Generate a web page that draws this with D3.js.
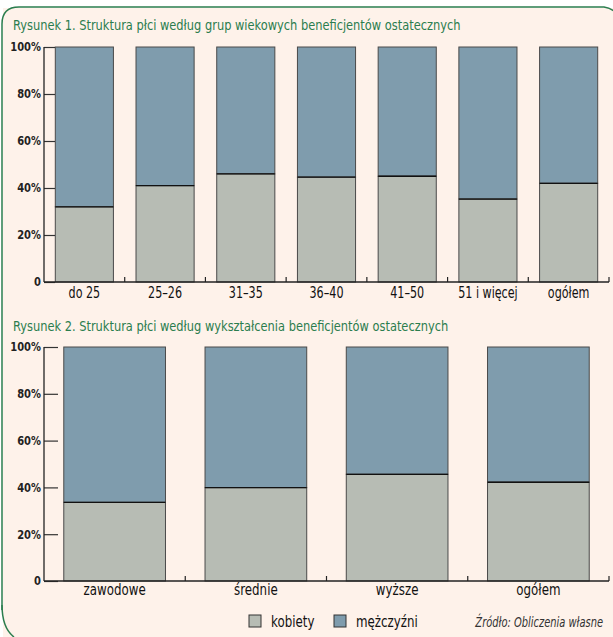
<!DOCTYPE html>
<html><head><meta charset="utf-8">
<script src="https://cdn.jsdelivr.net/npm/d3@7"></script>
<style>
html,body{margin:0;padding:0;background:#fff;}
svg{display:block;}
text{font-family:"DejaVu Sans Condensed","Liberation Sans Narrow",sans-serif;}
</style></head><body>
<svg id="c" width="613" height="637"></svg>
<script>
const title1 = "Rysunek 1. Struktura płci według grup wiekowych beneficjentów ostatecznych";
const title2 = "Rysunek 2. Struktura płci według wykształcenia beneficjentów ostatecznych";
const ageCategories = ["do 25","25–26","31–35","36–40","41–50","51 i więcej","ogółem"];
const ageWomen = [32, 41, 46, 44.6, 45, 35.3, 42];
const eduCategories = ["zawodowe","średnie","wyższe","ogółem"];
const eduWomen = [33.6, 39.9, 45.6, 42.2];
const yTicks = [0,20,40,60,80,100];
const yTickLabels = ["0","20%","40%","60%","80%","100%"];
const seriesNames = ["kobiety","mężczyźni"];
const source = "Źródło: Obliczenia własne";

const colors = {women:"#b7bcb4", men:"#7f9cad", bg:"#fef2ea", green:"#2b7d4e"};
const svg = d3.select("#c");

function squeeze(sel, f){
  sel.each(function(){
    const w = this.getComputedTextLength();
    d3.select(this).attr("textLength", w*f).attr("lengthAdjust","spacingAndGlyphs");
  });
}

// frame
svg.append("rect").attr("x",3).attr("y",8).attr("width",612).attr("height",630).attr("fill",colors.bg);
svg.append("path")
  .attr("d","M2,610 L2,24 Q2,7 19,7 L604,7 Q611,8 615,12")
  .attr("fill","none").attr("stroke",colors.green).attr("stroke-width",1.5);
svg.append("path")
  .attr("d","M2,605 Q2,628 14,637")
  .attr("fill","none").attr("stroke",colors.green).attr("stroke-width",1.5);

function drawChart(cfg){
  const g = svg.append("g");
  g.append("text").attr("x",13).attr("y",cfg.titleY).attr("fill",colors.green)
    .attr("font-size",14.5).text(cfg.title).call(squeeze,0.875);
  const x = d3.scaleBand().domain(cfg.cats).range([44,609]).paddingInner(0.28).paddingOuter(0.14);
  const y = d3.scaleLinear().domain([0,100]).range([cfg.y0,cfg.y1]);
  const bars = g.selectAll("g.bar").data(cfg.cats.map((c,i)=>({c,w:cfg.vals[i]}))).join("g");
  bars.append("rect").attr("x",d=>x(d.c)).attr("width",x.bandwidth())
    .attr("y",y(100)).attr("height",d=>y(d.w)-y(100))
    .attr("fill",colors.men).attr("stroke","#4a4a4a").attr("stroke-width",1);
  bars.append("rect").attr("x",d=>x(d.c)).attr("width",x.bandwidth())
    .attr("y",d=>y(d.w)).attr("height",d=>y(0)-y(d.w))
    .attr("fill",colors.women).attr("stroke","#4a4a4a").attr("stroke-width",1);
  bars.append("line").attr("x1",d=>x(d.c)).attr("x2",d=>x(d.c)+x.bandwidth())
    .attr("y1",d=>y(d.w)).attr("y2",d=>y(d.w)).attr("stroke","#111").attr("stroke-width",1.3);
  // y axis
  const ya = g.append("g").attr("transform","translate(44,0)")
    .call(d3.axisRight(y).tickValues(yTicks).tickFormat((d,i)=>yTickLabels[i]).tickSize(cfg.ytick).tickPadding(0));
  ya.select(".domain").remove();
  ya.selectAll(".tick line").attr("stroke","#333").attr("stroke-width",1.2);
  ya.selectAll(".tick text").attr("x",-3).attr("text-anchor","end").attr("font-size",13)
    .attr("font-weight","bold").attr("fill","#222").attr("dy","0.3em").call(squeeze,0.85);
  g.append("line").attr("x1",44).attr("x2",44).attr("y1",y(100)).attr("y2",y(0)).attr("stroke","#222").attr("stroke-width",1.3);
  // x axis
  const xa = g.append("g").attr("transform",`translate(0,${y(0)})`)
    .call(d3.axisBottom(x).tickSize(0).tickPadding(cfg.xpad));
  xa.select(".domain").attr("d",`M44,0H609`).attr("stroke","#222").attr("stroke-width",1.3);
  xa.selectAll(".tick text").attr("font-size",15.5).attr("fill","#111").call(squeeze,cfg.xsq);
  const n = cfg.cats.length;
  g.selectAll("line.bt").data(cfg.cats).join("line").attr("class","bt")
    .attr("x1",(d,i)=>x.range()[0]+(x.range()[1]-x.range()[0])/n*(i+1))
    .attr("x2",(d,i)=>x.range()[0]+(x.range()[1]-x.range()[0])/n*(i+1))
    .attr("y1",y(0)).attr("y2",y(0)-5).attr("stroke","#222").attr("stroke-width",1.2);
}

drawChart({title:title1,titleY:30,cats:ageCategories,vals:ageWomen,y0:282,y1:47,ytick:11,xpad:5,xsq:0.8});
drawChart({title:title2,titleY:331,cats:eduCategories,vals:eduWomen,y0:581,y1:347,ytick:14,xpad:3,xsq:0.85});

// legend
const lg = svg.append("g");
const legX = [249,334];
seriesNames.forEach((n,i)=>{
  lg.append("rect").attr("x",legX[i]).attr("y",615).attr("width",12).attr("height",12)
    .attr("fill",i===0?colors.women:colors.men).attr("stroke","#333").attr("stroke-width",1);
  lg.append("text").attr("x",legX[i]+22).attr("y",627).attr("font-size",15.5).attr("fill","#111").text(n).call(squeeze,0.85);
});
lg.append("text").attr("transform","translate(603,627) scale(0.76,1)").attr("text-anchor","end")
  .attr("font-size",14.5).attr("font-style","italic").attr("fill","#333").text(source);
</script>
</body></html>
